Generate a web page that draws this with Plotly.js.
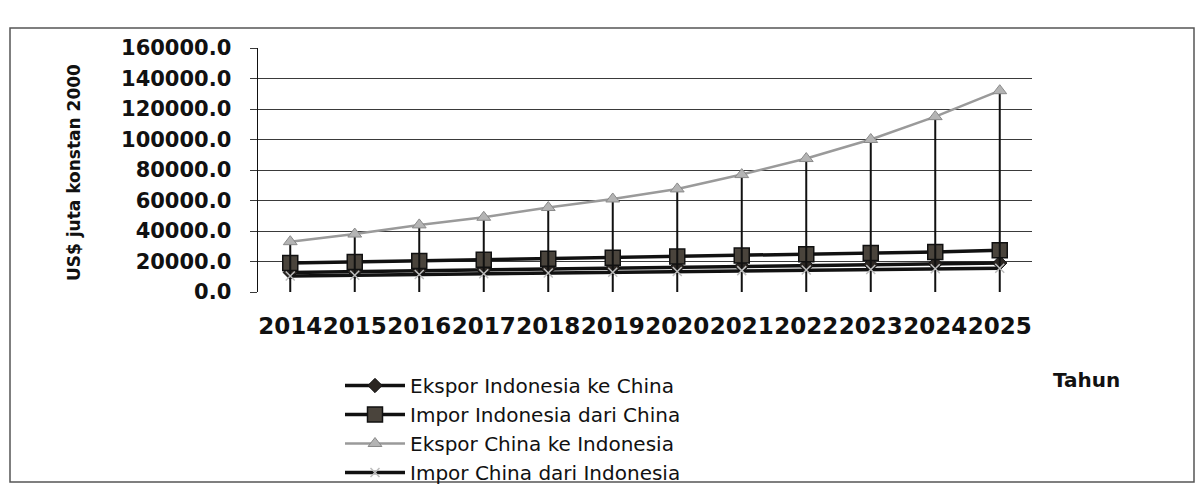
<!DOCTYPE html>
<html>
<head>
<meta charset="utf-8">
<script src="https://cdn.plot.ly/plotly-3.0.1.min.js"></script>
<style>
  html, body { margin: 0; padding: 0; background: #ffffff; }
  #chart { width: 1198px; height: 489px; }
</style>
</head>
<body>
<div id="chart"></div>
<script>
// ---- data ----
const years = ["2014","2015","2016","2017","2018","2019","2020","2021","2022","2023","2024","2025"];
const eksporIndonesiaKeChina = [12800, 13400, 14000, 14600, 15200, 15800, 16400, 17000, 17500, 18000, 18500, 19000];
const imporIndonesiaDariChina = [19000, 19700, 20400, 21100, 21800, 22500, 23200, 23900, 24700, 25500, 26300, 27300];
const eksporChinaKeIndonesia = [33000, 38000, 44000, 49000, 55400, 61000, 67600, 77000, 87500, 100000, 115000, 132000];
const imporChinaDariIndonesia = [10500, 11000, 11500, 12000, 12500, 13000, 13500, 14000, 14400, 14800, 15200, 15600];
const seriesNames = ["Ekspor Indonesia ke China", "Impor Indonesia dari China", "Ekspor China ke Indonesia", "Impor China dari Indonesia"];
const yTitle = "US$ juta konstan 2000";
const xTitle = "Tahun";

// ---- layout geometry ----
const W = 1198, H = 489;
const m = {l: 258, r: 166, t: 48, b: 197, autoexpand: false};
const pw = W - m.l - m.r, ph = H - m.t - m.b;
const px = x => (x - m.l) / pw;
const py = y => (H - m.b - y) / ph;

const font = "DejaVu Sans, Verdana, sans-serif";

const traces = [
  {
    x: years, y: eksporIndonesiaKeChina, name: seriesNames[0], type: "scatter", mode: "lines+markers",
    line: {color: "#111111", width: 3.5},
    marker: {symbol: "diamond", size: 11, color: "#2b2622", line: {color: "#111", width: 1}}
  },
  {
    x: years, y: imporIndonesiaDariChina, name: seriesNames[1], type: "scatter", mode: "lines+markers",
    line: {color: "#111111", width: 3.5},
    marker: {symbol: "square", size: 15, color: "#4a443c", line: {color: "#111", width: 1.5}}
  },
  {
    x: years, y: eksporChinaKeIndonesia, name: seriesNames[2], type: "scatter", mode: "lines+markers",
    line: {color: "#9a9a9a", width: 2.5},
    marker: {symbol: "triangle-up", size: 12, color: "#b4b4b4", line: {color: "#8a8a8a", width: 1}},
    error_y: {
      type: "data", symmetric: false,
      array: eksporChinaKeIndonesia.map(() => 0),
      arrayminus: eksporChinaKeIndonesia,
      color: "#111111", thickness: 2, width: 0
    }
  },
  {
    x: years, y: imporChinaDariIndonesia, name: seriesNames[3], type: "scatter", mode: "lines+markers",
    line: {color: "#111111", width: 3.5},
    marker: {symbol: "x-thin", size: 9, color: "#bdbdbd", line: {color: "#bdbdbd", width: 1.5}}
  }
];

const layout = {
  width: W, height: H,
  margin: m,
  paper_bgcolor: "#ffffff",
  plot_bgcolor: "#ffffff",
  showlegend: true,
  font: {family: font, color: "#111111"},
  xaxis: {
    type: "category",
    range: [-0.5, years.length - 0.5],
    tickmode: "array",
    tickvals: years,
    ticktext: years,
    tickangle: 0,
    showgrid: false,
    zeroline: false,
    showline: false,
    ticks: "",
    tickfont: {family: font, size: 23, color: "#111", weight: "bold"},
    ticklabelstandoff: 18,
    fixedrange: true
  },
  yaxis: {
    range: [0, 160000],
    dtick: 20000,
    tickformat: ".1f",
    showgrid: true,
    gridcolor: "#3a3a3a",
    gridwidth: 1,
    zeroline: false,
    showline: true,
    linecolor: "#111111",
    linewidth: 1.5,
    ticks: "outside",
    ticklen: 7,
    tickcolor: "#3a3a3a",
    tickfont: {family: font, size: 21, color: "#111", weight: "bold"},
    ticklabelstandoff: 14,
    fixedrange: true
  },
  legend: {
    x: px(340), y: py(366),
    xanchor: "left", yanchor: "top",
    font: {family: font, size: 20, color: "#111"},
    bgcolor: "rgba(0,0,0,0)",
    tracegroupgap: 0,
    itemwidth: 60
  },
  annotations: [
    {
      text: "<b>" + yTitle + "</b>", xref: "paper", yref: "paper",
      x: px(74), y: py(173), xanchor: "center", yanchor: "middle",
      textangle: -90, showarrow: false,
      font: {family: font, size: 17, color: "#111"}
    },
    {
      text: "<b>" + xTitle + "</b>", xref: "paper", yref: "paper",
      x: px(1086), y: py(380), xanchor: "center", yanchor: "middle",
      showarrow: false,
      font: {family: font, size: 20, color: "#111"}
    }
  ],
  shapes: [
    {
      type: "rect", xref: "paper", yref: "paper",
      x0: px(10), x1: px(1194), y0: py(482), y1: py(28),
      line: {color: "#555555", width: 1.5}
    }
  ]
};

Plotly.newPlot("chart", traces, layout, {displayModeBar: false, staticPlot: true});
</script>
</body>
</html>
